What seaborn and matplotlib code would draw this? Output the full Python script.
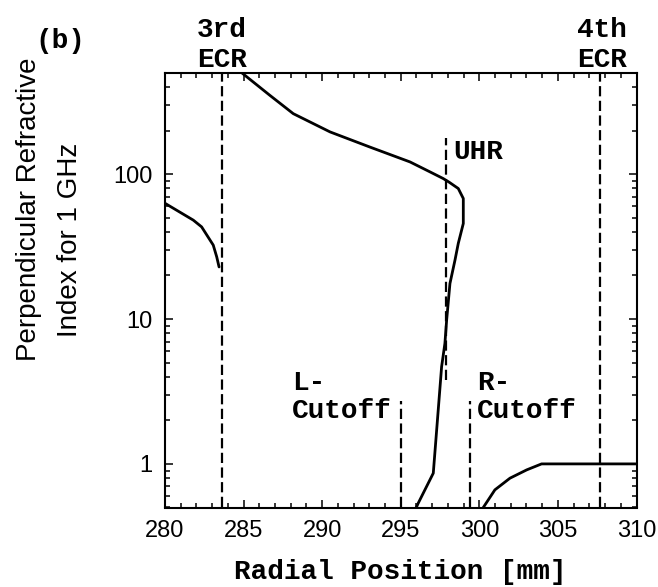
import numpy as np
import pandas as pd
import matplotlib
matplotlib.use("Agg")
import matplotlib.pyplot as plt
from matplotlib.ticker import FixedLocator, FixedFormatter, LogLocator, MultipleLocator, NullFormatter
import seaborn as sns

# Perpendicular refractive index branches versus radial position (mm)
branch_lower_x = [280.0, 281.8, 282.33, 283.07, 283.29, 283.44]
branch_lower_n = [63.0, 48.2, 43.3, 32.4, 26.9, 22.9]

branch_main_x = [284.9, 286.68, 288.16, 290.5, 293.04, 295.59, 296.86, 297.70,
                 298.08, 298.66, 298.98, 298.98, 298.66, 298.45, 298.13, 297.92,
                 297.81, 297.60, 297.07, 296.11, 295.97]
branch_main_n = [500.0, 350.0, 262.0, 196.0, 154.0, 121.6, 103.8, 93.4,
                 88.1, 79.7, 68.0, 45.7, 33.3, 25.5, 17.6, 9.84,
                 6.8, 4.69, 0.863, 0.535, 0.495]

branch_outer_x = [300.25, 300.99, 301.95, 303.01, 303.96, 310.0]
branch_outer_n = [0.5, 0.662, 0.797, 0.909, 1.0, 1.0]

# Characteristic layer positions (mm) and the span of each marker line
layer_names = ["3rd ECR", "L-Cutoff", "UHR", "R-Cutoff", "4th ECR"]
layer_x = [283.6, 295.0, 297.9, 299.4, 307.7]
layer_n_lo = [0.5, 0.5, 3.8, 0.5, 0.5]
layer_n_hi = [500.0, 2.7, 177.0, 2.7, 500.0]

x_ticks = [280, 285, 290, 295, 300, 305, 310]
y_ticks = [1, 10, 100]
y_tick_labels = ["1", "10", "100"]

sns.set_theme(style="ticks")
plt.rcParams["font.family"] = ["Liberation Sans", "DejaVu Sans"]

frames = []
for name, xs, ns in [("lower", branch_lower_x, branch_lower_n),
                     ("main", branch_main_x, branch_main_n),
                     ("outer", branch_outer_x, branch_outer_n)]:
    frames.append(pd.DataFrame({"r": xs, "n": ns, "branch": name}))
df = pd.concat(frames, ignore_index=True)

W, H = 658, 587
fig = plt.figure(figsize=(W / 100, H / 100), dpi=100)
ax = fig.add_axes([165 / W, 1 - 507.5 / H, (636.5 - 165) / W, (507.5 - 73) / H])

for name in ["lower", "main", "outer"]:
    sub = df[df["branch"] == name]
    sns.lineplot(data=sub, x="r", y="n", sort=False, estimator=None,
                 color="black", linewidth=2.0, ax=ax, legend=False)

ax.vlines(layer_x, layer_n_lo, layer_n_hi, colors="black", linewidth=1.6,
          linestyles=(0, (4.6, 2.0)))

ax.set_yscale("log")
ax.set_xlim(280, 310)
ax.set_ylim(0.5, 500)

ax.xaxis.set_major_locator(FixedLocator(x_ticks))
ax.xaxis.set_minor_locator(MultipleLocator(1))
ax.yaxis.set_major_locator(FixedLocator(y_ticks))
ax.yaxis.set_major_formatter(FixedFormatter(y_tick_labels))
ax.yaxis.set_minor_locator(LogLocator(base=10, subs=np.arange(2, 10)))
ax.yaxis.set_minor_formatter(NullFormatter())

for s in ax.spines.values():
    s.set_visible(True)
    s.set_linewidth(1.5)
    s.set_color("black")

ax.tick_params(which="both", direction="in", top=True, right=True,
               color="black", width=1.1)
ax.tick_params(which="major", length=6, labelsize=17, pad=9, labelcolor="black")
ax.tick_params(which="minor", length=3.6)

ax.set_xlabel("")
ax.set_ylabel("")

bold = dict(family=["Liberation Mono", "DejaVu Sans Mono"], weight="bold",
            color="black", fontsize=20)

def fx(px):
    return px / W

def fy(py):
    return 1 - py / H

# Axis titles
fig.text(fx(400), fy(572), "Radial Position [mm]", ha="center", va="center", **bold)
ylab = dict(family=["Liberation Sans", "DejaVu Sans"],
            fontsize=20, color="black", rotation=90, ha="center", va="center")
fig.text(fx(29), fy(209), "Perpendicular Refractive", **ylab)
fig.text(fx(70), fy(240), "Index for 1 GHz", **ylab)

# Panel tag and resonance labels above the frame
fig.text(fx(60), fy(41), "(b)", ha="center", va="center", **bold)
for cx, top, bottom in [(222, "3rd", "ECR"), (602, "4th", "ECR")]:
    fig.text(fx(cx), fy(37), top, ha="center", va="baseline", **bold)
    fig.text(fx(cx), fy(67), bottom, ha="center", va="baseline", **bold)

# Labels inside the frame
ax.text(298.32, 142, "UHR", ha="left", va="center", **bold)
ax.text(288.1, 3.24, "L-", ha="left", va="baseline", **bold)
ax.text(288.1, 2.08, "Cutoff", ha="left", va="baseline", **bold)
ax.text(299.85, 3.24, "R-", ha="left", va="baseline", **bold)
ax.text(299.85, 2.08, "Cutoff", ha="left", va="baseline", **bold)

fig.savefig("out.png", dpi=100, facecolor="white")
